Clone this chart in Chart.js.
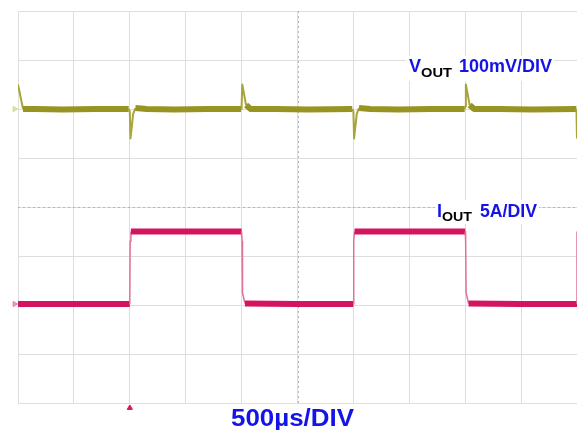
<!DOCTYPE html>
<html>
<head>
<meta charset="utf-8">
<title>VOUT / IOUT load transient</title>
<script src="https://cdn.jsdelivr.net/npm/chart.js@4"></script>
<style>
  html, body { margin: 0; padding: 0; background: #ffffff; }
  #wrap { width: 577px; height: 430px; }
</style>
</head>
<body>
<div id="wrap"><canvas id="scope" width="577" height="430"></canvas></div>
<script>
// Time base: 500us/DIV, 10 divisions on screen (values in us)
const tempoMin = 0;
const tempoMax = 5000;
const tempoPasso = 500;

// Vertical: 8 divisions (values in screen divisions, 0 = bottom)
const divMin = 0;
const divMax = 8;

// VOUT trace (100mV/DIV), ground marker at div 6
const voutTempo = [0, 45, 150, 400, 700, 990, 1000, 1006, 1030, 1050, 1150, 1400, 1700, 1995,
  2000, 2006, 2040, 2080, 2300, 2600, 2990, 3000, 3006, 3030, 3050, 3150, 3400, 3700, 3995,
  4000, 4006, 4040, 4080, 4300, 4600, 4995, 5000];
const voutDiv = [6.5, 6.0, 6.0, 5.99, 6.0, 6.0, 5.95, 5.4, 5.9, 6.02, 6.0, 5.99, 6.0, 6.0,
  6.05, 6.5, 6.08, 6.0, 6.0, 5.99, 6.0, 5.95, 5.4, 5.9, 6.02, 6.0, 5.99, 6.0, 6.0,
  6.05, 6.5, 6.08, 6.0, 6.0, 5.99, 6.0, 5.4];

// IOUT trace (5A/DIV), ground marker at div 2
const ioutTempo = [0, 400, 1000, 1003, 1010, 1500, 2000, 2004, 2008, 2030,
  2500, 3000, 3003, 3010, 3500, 4000, 4004, 4008, 4030, 4500, 5000, 5000];
const ioutDiv = [2.02, 2.02, 2.02, 3.3, 3.5, 3.5, 3.5, 3.3, 2.25, 2.03,
  2.02, 2.02, 3.3, 3.5, 3.5, 3.5, 3.3, 2.25, 2.03, 2.02, 2.02, 3.5];

// Channel ground markers (left edge) and trigger marker (bottom)
const marcadorTempo = [-30, -30];
const marcadorDiv = [6.0, 2.02];
const gatilhoTempo = [1000];
const gatilhoDiv = [-0.1];

// Build {x, y} points from the arrays
function pontos(tempos, valores) {
  return tempos.map((t, i) => ({ x: t, y: valores[i] }));
}

// Steep segments (edges, spikes) are drawn thin, flat parts as a thick noisy band
function ehIngreme(ctx) {
  return Math.abs(ctx.p1.y - ctx.p0.y) > 2 * Math.abs(ctx.p1.x - ctx.p0.x);
}

function traco(label, dados, cor, corBorda, larguraBorda) {
  return {
    label: label,
    data: dados,
    borderColor: cor,
    borderWidth: 6,
    borderCapStyle: 'butt',
    borderJoinStyle: 'round',
    pointRadius: 0,
    tension: 0,
    fill: false,
    segment: {
      borderWidth: ctx => ehIngreme(ctx) ? larguraBorda : 6,
      borderColor: ctx => ehIngreme(ctx) ? corBorda : cor
    }
  };
}

// Center graticule lines are dashed on top of the normal grid
const centroPlugin = {
  id: 'centro',
  beforeDatasetsDraw(chart) {
    const c = chart.ctx;
    const area = chart.chartArea;
    const xc = Math.round(chart.scales.x.getPixelForValue((tempoMin + tempoMax) / 2)) + 0.5;
    const yc = Math.round(chart.scales.y.getPixelForValue((divMin + divMax) / 2)) + 0.5;
    c.save();
    c.strokeStyle = '#b4b4b4';
    c.lineWidth = 1;
    c.setLineDash([2, 3]);
    c.beginPath();
    c.moveTo(xc, area.top);
    c.lineTo(xc, area.bottom);
    c.moveTo(area.left, yc);
    c.lineTo(area.right, yc);
    c.stroke();
    c.restore();
  }
};

// Write a text stretched to a given width
function texto(c, str, x, base, fonte, cor, largura) {
  c.save();
  c.font = fonte;
  c.fillStyle = cor;
  c.textBaseline = 'alphabetic';
  const w = c.measureText(str).width;
  c.translate(x, base);
  c.scale(largura / w, 1);
  c.fillText(str, 0, 0);
  c.restore();
}

const azul = '#1414e8';
const fonteGrande = 'bold 18px "Liberation Sans", Arial, sans-serif';
const fonteSub = 'bold 13px "Liberation Sans", Arial, sans-serif';

const rotulosPlugin = {
  id: 'rotulos',
  afterDatasetsDraw(chart) {
    const c = chart.ctx;
    c.save();
    c.fillStyle = '#ffffff';
    c.fillRect(406, 56, 148, 25);
    c.fillRect(435, 200, 104, 24);
    c.restore();

    // VOUT 100mV/DIV
    texto(c, 'V', 409, 72, fonteGrande, azul, 12);
    texto(c, 'OUT', 421, 77, fonteSub, '#000000', 31);
    texto(c, '100mV/DIV', 459, 72, fonteGrande, azul, 93);

    // IOUT 5A/DIV
    texto(c, 'I', 437, 217, fonteGrande, azul, 5);
    texto(c, 'OUT', 442, 221, fonteSub, '#000000', 30);
    texto(c, '5A/DIV', 480, 217, fonteGrande, azul, 57);

    // Time base
    texto(c, '500\u00b5s/DIV', 231, 426, 'bold 24px "Liberation Sans", Arial, sans-serif', azul, 123);
  }
};

const corGrade = '#dedede';

new Chart(document.getElementById('scope'), {
  type: 'line',
  data: {
    datasets: [
      traco('VOUT', pontos(voutTempo, voutDiv), '#979421', '#a9a43a', 2),
      traco('IOUT', pontos(ioutTempo, ioutDiv), '#d3155f', '#e0709c', 1.5),
      {
        label: 'marcadores',
        type: 'scatter',
        data: pontos(marcadorTempo, marcadorDiv),
        pointStyle: 'triangle',
        rotation: 90,
        pointRadius: 3,
        backgroundColor: ['#e6e3a8', '#ec9cbc'],
        borderColor: ['#d8d48a', '#e27aa6'],
        borderWidth: 1,
        clip: false
      },
      {
        label: 'gatilho',
        type: 'scatter',
        data: pontos(gatilhoTempo, gatilhoDiv),
        pointStyle: 'triangle',
        pointRadius: 3,
        backgroundColor: '#d3155f',
        borderColor: '#d3155f',
        borderWidth: 1,
        clip: false
      }
    ]
  },
  options: {
    responsive: false,
    animation: false,
    devicePixelRatio: 1,
    layout: { autoPadding: false, padding: { left: 18, top: 11, right: 0, bottom: 27 } },
    plugins: {
      legend: { display: false },
      tooltip: { enabled: false },
      title: { display: false }
    },
    scales: {
      x: {
        type: 'linear',
        min: tempoMin,
        max: tempoMax,
        ticks: { display: false, stepSize: tempoPasso },
        grid: { color: corGrade, drawTicks: false, lineWidth: 1 },
        border: { display: false }
      },
      y: {
        type: 'linear',
        min: divMin,
        max: divMax,
        ticks: { display: false, stepSize: 1 },
        grid: { color: corGrade, drawTicks: false, lineWidth: 1 },
        border: { display: false }
      }
    }
  },
  plugins: [centroPlugin, rotulosPlugin]
});
</script>
</body>
</html>
